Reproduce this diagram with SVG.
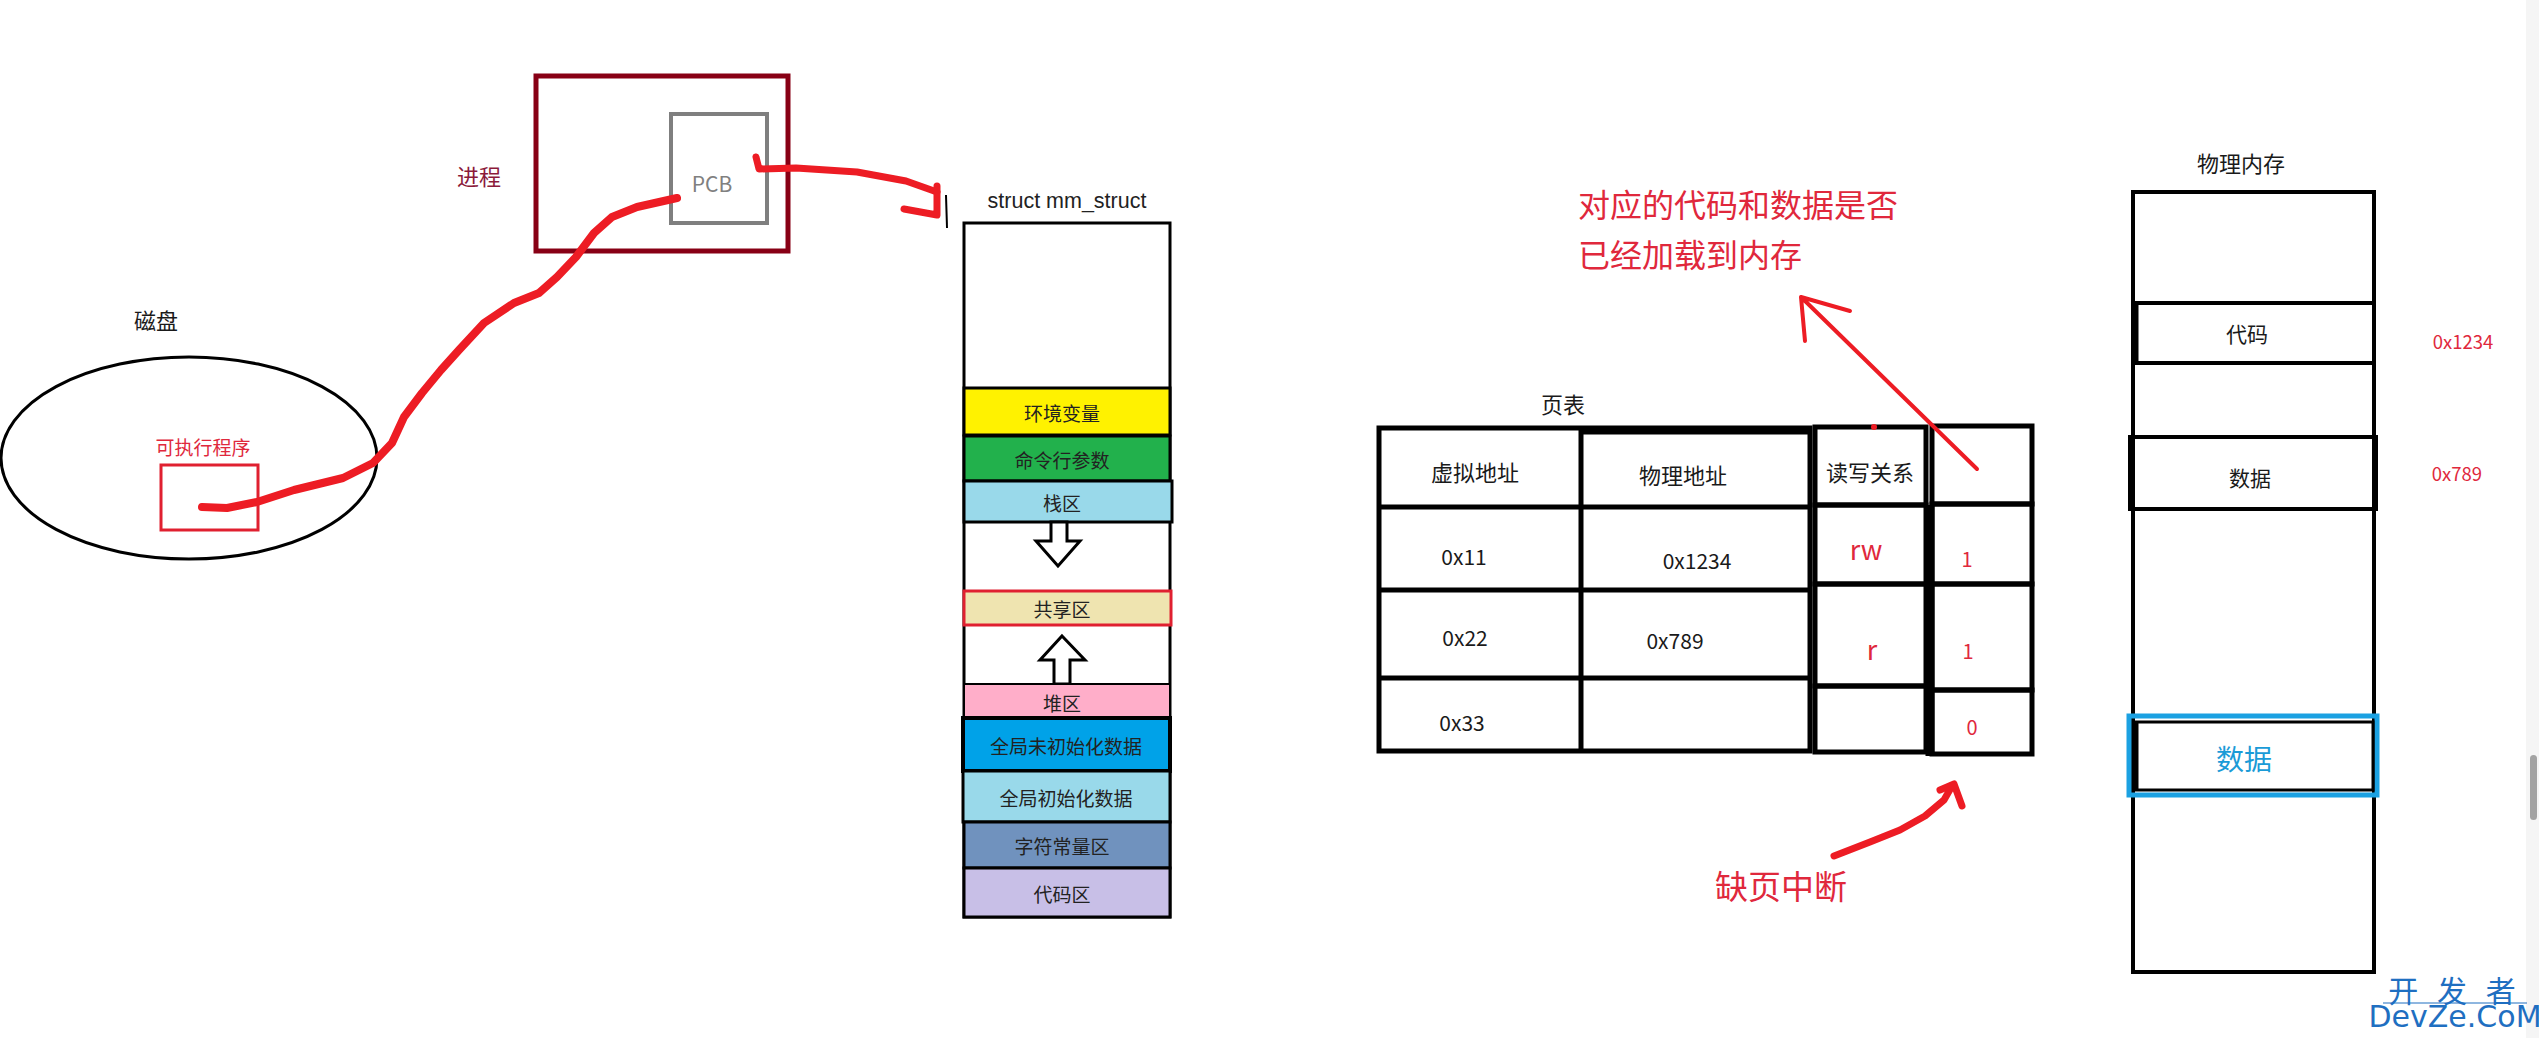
<svg xmlns="http://www.w3.org/2000/svg" width="2539" height="1038" viewBox="0 0 2539 1038">
<style>
text{font-family:"Noto Sans CJK SC","Noto Sans",sans-serif;}
.c{text-anchor:middle;dominant-baseline:central;}
.blk{fill:#1a1a1a;}
.red{fill:#e0283c;}
.box{fill:none;stroke:#000;stroke-width:4;}
.layer{stroke:#000;stroke-width:3;}
.lt{font-size:19px;fill:#222;}
.pen{fill:none;stroke:#ed1c24;stroke-linecap:round;stroke-linejoin:round;}
.tl{stroke:#000;stroke-width:5;fill:none;}
</style>
<rect x="0" y="0" width="2539" height="1038" fill="#fff"/>

<g id="disk">
<ellipse cx="189" cy="458" rx="188" ry="101" fill="none" stroke="#000" stroke-width="3"/>
<text x="156" y="319" class="c blk" font-size="22">磁盘</text>
</g>
<g id="exe">
<text x="203" y="446" class="c red" font-size="19">可执行程序</text>
<rect x="161" y="465" width="97" height="65" fill="none" stroke="#e02030" stroke-width="3"/>
</g>
<g id="process">
<rect x="536" y="76" width="252" height="175" fill="none" stroke="#880015" stroke-width="5"/>
<text x="479" y="175" class="c" font-size="22" fill="#8b1a3a">进程</text>
</g>
<g id="pcb">
<rect x="671" y="114" width="96" height="109" fill="none" stroke="#7f7f7f" stroke-width="4"/>
<text x="712" y="183" class="c" font-size="21" fill="#808080">PCB</text>
</g>

<g id="mm_struct">
<text x="1067" y="201" class="c" style="font-family:'Liberation Sans',Arial,sans-serif" font-size="21.5" fill="#222">struct mm_struct</text>
<rect x="964" y="223" width="206" height="694" fill="#fff" stroke="#000" stroke-width="3"/>
<rect x="964" y="388" width="206" height="47" fill="#fff200" class="layer"/>
<text x="1062" y="412" class="c lt">环境变量</text>
<rect x="964" y="436" width="206" height="45" fill="#22b14c" class="layer"/>
<text x="1062" y="459" class="c lt">命令行参数</text>
<rect x="964" y="481" width="208" height="41" fill="#99d9ea" class="layer"/>
<text x="1062" y="502" class="c lt">栈区</text>
<polygon points="1051,522 1067,522 1067,541 1080,541 1058,566 1036,541 1051,541" fill="#fff" stroke="#000" stroke-width="3"/>
<rect x="964" y="591" width="207" height="34" fill="#efe4b0" stroke="#e02030" stroke-width="3"/>
<text x="1062" y="608" class="c lt">共享区</text>
<polygon points="1062,636 1085,660 1070,660 1070,684 1054,684 1054,660 1040,660" fill="#fff" stroke="#000" stroke-width="3"/>
<rect x="964" y="684" width="206" height="34" fill="#ffaec9" stroke="#000" stroke-width="2"/>
<text x="1062" y="702" class="c lt">堆区</text>
<rect x="963" y="718" width="207" height="53" fill="#00a2e8" stroke="#000" stroke-width="4"/>
<text x="1066" y="745" class="c lt" font-size="18.5">全局未初始化数据</text>
<rect x="963" y="771" width="207" height="51" fill="#99d9ea" class="layer"/>
<text x="1066" y="797" class="c lt" font-size="18.5">全局初始化数据</text>
<rect x="964" y="822" width="206" height="46" fill="#7092be" class="layer"/>
<text x="1062" y="845" class="c lt">字符常量区</text>
<rect x="964" y="868" width="206" height="49" fill="#c8bfe7" class="layer"/>
<text x="1062" y="893" class="c lt">代码区</text>
</g>
<line x1="946" y1="195" x2="947" y2="228" stroke="#000" stroke-width="2"/>

<g id="note">
<text x="1578" y="203" font-size="32" class="red" dominant-baseline="central">对应的代码和数据是否</text>
<text x="1578" y="253" font-size="32" class="red" dominant-baseline="central">已经加载到内存</text>
</g>

<g id="page_table">
<text x="1563" y="403" class="c blk" font-size="22">页表</text>
<rect x="1379" y="428" width="431" height="323" class="tl"/>
<line x1="1581" y1="428" x2="1581" y2="751" class="tl"/>
<line x1="1581" y1="432" x2="1810" y2="432" class="tl"/>
<line x1="1379" y1="507" x2="1810" y2="507" class="tl"/>
<line x1="1379" y1="590" x2="1810" y2="590" class="tl"/>
<line x1="1379" y1="678" x2="1810" y2="678" class="tl"/>
<rect x="1815" y="427" width="111" height="78" class="tl"/>
<rect x="1815" y="505" width="111" height="79" class="tl"/>
<rect x="1815" y="584" width="111" height="102" class="tl"/>
<rect x="1815" y="686" width="111" height="66" class="tl"/>
<rect x="1932" y="426" width="100" height="78" class="tl"/>
<rect x="1932" y="504" width="100" height="80" class="tl"/>
<rect x="1932" y="584" width="100" height="106" class="tl"/>
<rect x="1932" y="690" width="100" height="64" class="tl"/>
<line x1="1930" y1="505" x2="1930" y2="756" stroke="#000" stroke-width="9"/>
<text x="1475" y="471" class="c blk" font-size="22">虚拟地址</text>
<text x="1683" y="474" class="c blk" font-size="22">物理地址</text>
<text x="1870" y="471" class="c blk" font-size="22">读写关系</text>
<text x="1464" y="556" class="c blk" font-size="21">0x11</text>
<text x="1697" y="560" class="c blk" font-size="21">0x1234</text>
<text x="1465" y="637" class="c blk" font-size="21">0x22</text>
<text x="1675" y="640" class="c blk" font-size="21">0x789</text>
<text x="1462" y="722" class="c blk" font-size="21">0x33</text>
<text x="1866" y="548" class="c red" font-size="27">rw</text>
<text x="1872" y="648" class="c red" font-size="27">r</text>
<text x="1967" y="558" class="c red" font-size="20">1</text>
<text x="1968" y="650" class="c red" font-size="20">1</text>
<text x="1972" y="726" class="c red" font-size="20">0</text>
<circle cx="1874" cy="427" r="3" fill="#ed1c24"/>
</g>

<g id="fault">
<text x="1781" y="885" class="c red" font-size="33">缺页中断</text>
</g>

<g id="phys_mem">
<text x="2241" y="162" class="c blk" font-size="22">物理内存</text>
<rect x="2133" y="192" width="241" height="780" class="box"/>
<rect x="2134" y="303" width="240" height="60" class="box"/>
<line x1="2136" y1="303" x2="2136" y2="363" stroke="#000" stroke-width="5"/>
<text x="2247" y="333" class="c blk" font-size="21">代码</text>
<rect x="2130" y="437" width="246" height="72" class="box"/>
<line x1="2131" y1="437" x2="2131" y2="509" stroke="#000" stroke-width="5"/>
<text x="2250" y="477" class="c blk" font-size="21">数据</text>
<rect x="2129" y="716" width="248" height="79" fill="none" stroke="#1ba1e2" stroke-width="5"/>
<rect x="2135" y="722" width="238" height="68" fill="none" stroke="#000" stroke-width="3"/>
<line x1="2136" y1="722" x2="2136" y2="790" stroke="#000" stroke-width="5"/>
<text x="2244" y="758" class="c" font-size="28" fill="#1a9bd7">数据</text>
<text x="2463" y="341" class="c red" font-size="18.5">0x1234</text>
<text x="2457" y="473" class="c red" font-size="18.5">0x789</text>
</g>

<g id="connectors">
<path class="pen" stroke-width="8" d="M202,507 L227,508 L257,502 L294,490 L343,478 L373,463 L392,443 L404,417 L422,393 L441,370 L459,350 L484,323 L514,303 L539,293 L557,277 L576,257 L594,233 L612,217 L637,207 L677,198"/>
<path class="pen" stroke-width="7" d="M756,157 L759,169 L796,168 L857,172 L906,181 L937,192"/>
<path class="pen" stroke-width="7" d="M904,209 L937,215 L937,186"/>
<path class="pen" stroke-width="4" d="M1977,469 L1801,297 M1850,311 L1801,297 L1805,341"/>
<path class="pen" stroke-width="7" d="M1834,856 L1870,842 L1900,830 L1925,816 L1944,800 L1952,786"/>
<path class="pen" stroke-width="7" d="M1940,790 L1954,784 L1962,806"/>
</g>

<g id="scrollbar">
<rect x="2526" y="0" width="13" height="1038" fill="#f5f5f5"/>
<rect x="2530" y="755" width="7" height="65" rx="3.5" fill="#a3a3a3"/>
</g>
<g id="watermark">
<text x="2455" y="989" class="c" font-size="30" fill="#1f6fc1" letter-spacing="6">开 发 者</text>
<line x1="2383" y1="1003" x2="2527" y2="1003" stroke="#1f6fc1" stroke-width="1"/>
<text x="2455" y="1016" class="c" font-size="30" fill="#1f6fc1" style="font-family:'DejaVu Sans',sans-serif">DevZe.CoM</text>
</g>
</svg>
